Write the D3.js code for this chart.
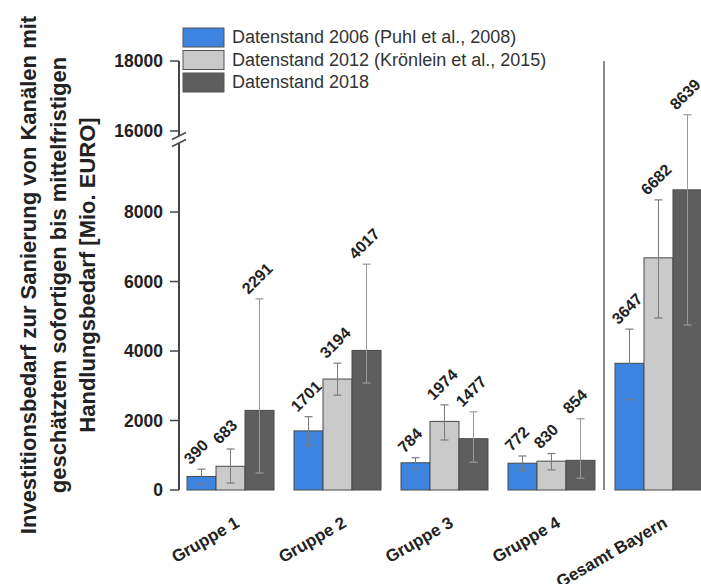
<!DOCTYPE html>
<html><head><meta charset="utf-8">
<script src="https://cdn.jsdelivr.net/npm/d3@7"></script>
<style>body{margin:0;background:#fff}svg{display:block;font-family:"Liberation Sans",Arial,sans-serif}</style>
</head><body><svg id="c" width="701" height="584"></svg>
<script>
const categories = ["Gruppe 1","Gruppe 2","Gruppe 3","Gruppe 4","Gesamt Bayern"];
const seriesNames = ["Datenstand 2006 (Puhl et al., 2008)","Datenstand 2012 (Krönlein et al., 2015)","Datenstand 2018"];
const values2006 = [390,1701,784,772,3647];
const values2012 = [683,3194,1974,830,6682];
const values2018 = [2291,4017,1477,854,8639];
const errLow2006 = [180,1270,610,560,2600];
const errHigh2006 = [600,2110,930,980,4630];
const errLow2012 = [200,2730,1440,580,4950];
const errHigh2012 = [1180,3650,2450,1050,8350];
const errLow2018 = [490,3080,800,340,4750];
const errHigh2018 = [5500,6500,2250,2050,10800];
const lowerTicks = [0,2000,4000,6000,8000];
const upperTicks = [16000,18000];
const yTitle = ["Investitionsbedarf zur Sanierung von Kanälen mit","geschätztem sofortigen bis mittelfristigen","Handlungsbedarf [Mio. EURO]"];
const colors = ["#3d84e0","#cacaca","#5e5e5e"];

const series = [
  {vals: values2006, lo: errLow2006, hi: errHigh2006},
  {vals: values2012, lo: errLow2012, hi: errHigh2012},
  {vals: values2018, lo: errLow2018, hi: errHigh2018}
];

const svg = d3.select("#c");
const axisX = 179;
const yLow = d3.scaleLinear().domain([0, 9800]).range([490, 149.5]);
const yUp = d3.scaleLinear().domain([16000, 18000]).range([131, 61]);
const y = v => v < 15000 ? yLow(v) : yUp(v);

const x0 = d3.scaleBand().domain(categories).range([179, 710]).paddingInner(0.187).paddingOuter(0.075);
const x1 = d3.scaleBand().domain([0,1,2]).range([0, x0.bandwidth()]);

// separator line
const sepX = x0(categories[4]) - (x0.step() - x0.bandwidth())/2 - 1;
svg.append("line").attr("x1", sepX).attr("x2", sepX).attr("y1", yUp(18000)).attr("y2", yLow(0))
  .attr("stroke", "#8a8a8a").attr("stroke-width", 2);

// bars
const g = svg.append("g");
categories.forEach((c, i) => {
  series.forEach((s, j) => {
    const bx = x0(c) + x1(j);
    const bw = x1.bandwidth();
    g.append("rect").attr("x", bx).attr("y", y(s.vals[i])).attr("width", bw)
      .attr("height", y(0) - y(s.vals[i])).attr("fill", colors[j])
      .attr("stroke", "#4a4a4a").attr("stroke-width", 1);
  });
});
// error bars + labels
categories.forEach((c, i) => {
  series.forEach((s, j) => {
    const cx = x0(c) + x1(j) + x1.bandwidth()/2;
    const col = j === 2 ? "#9a9a9a" : "#7a7a7a";
    g.append("line").attr("x1", cx).attr("x2", cx).attr("y1", y(s.lo[i])).attr("y2", y(s.hi[i]))
      .attr("stroke", col).attr("stroke-width", 1);
    [s.lo[i], s.hi[i]].forEach(v => {
      g.append("line").attr("x1", cx-4).attr("x2", cx+4).attr("y1", y(v)).attr("y2", y(v))
        .attr("stroke", col).attr("stroke-width", 1.2);
    });
    g.append("text").attr("transform", `translate(${cx-11},${y(s.hi[i])-4}) rotate(-45)`)
      .attr("font-size", 16).attr("font-weight", "bold").attr("fill", "#222").text(s.vals[i]);
  });
});

// axes
const axisCol = "#444";
const ax = svg.append("g");
ax.append("line").attr("x1", axisX).attr("x2", axisX).attr("y1", yLow(0)).attr("y2", 143).attr("stroke", axisCol).attr("stroke-width", 2);
ax.append("line").attr("x1", axisX).attr("x2", axisX).attr("y1", 136).attr("y2", yUp(18000)).attr("stroke", axisCol).attr("stroke-width", 2);
[136, 143].forEach(yy => {
  ax.append("line").attr("x1", axisX-7).attr("x2", axisX+7).attr("y1", yy+3.5).attr("y2", yy-3.5)
    .attr("stroke", axisCol).attr("stroke-width", 1.5);
});
const tickG = (scale, ticks) => {
  ticks.forEach(t => {
    ax.append("line").attr("x1", axisX-9).attr("x2", axisX).attr("y1", scale(t)).attr("y2", scale(t))
      .attr("stroke", axisCol).attr("stroke-width", 1.5);
    ax.append("text").attr("x", 163).attr("y", scale(t)).attr("dy", "0.36em").attr("text-anchor", "end")
      .attr("font-size", 17.5).attr("font-weight", "bold").attr("fill", "#222").text(t);
  });
};
tickG(yLow, lowerTicks);
tickG(yUp, upperTicks);

// x labels
categories.forEach(c => {
  const cx = x0(c) + x0.bandwidth()/2;
  svg.append("text").attr("transform", `translate(${cx+10},${526}) rotate(-30)`)
    .attr("text-anchor", "end").attr("font-size", 17).attr("font-weight", "bold").attr("fill", "#222").text(c);
});

// y title
yTitle.forEach((t, k) => {
  svg.append("text").attr("transform", `translate(${36 + k*29.5},275) rotate(-90)`)
    .attr("text-anchor", "middle").attr("font-size", 22).attr("font-weight", "bold").attr("fill", "#222").text(t);
});

// legend
seriesNames.forEach((n, j) => {
  const ly = 28 + j*22.5;
  svg.append("rect").attr("x", 183).attr("y", ly).attr("width", 41).attr("height", 19)
    .attr("fill", colors[j]).attr("stroke", "#555").attr("stroke-width", 1);
  svg.append("text").attr("x", 232).attr("y", ly + 15).attr("font-size", 18).attr("fill", "#333").text(n);
});
</script></body></html>
